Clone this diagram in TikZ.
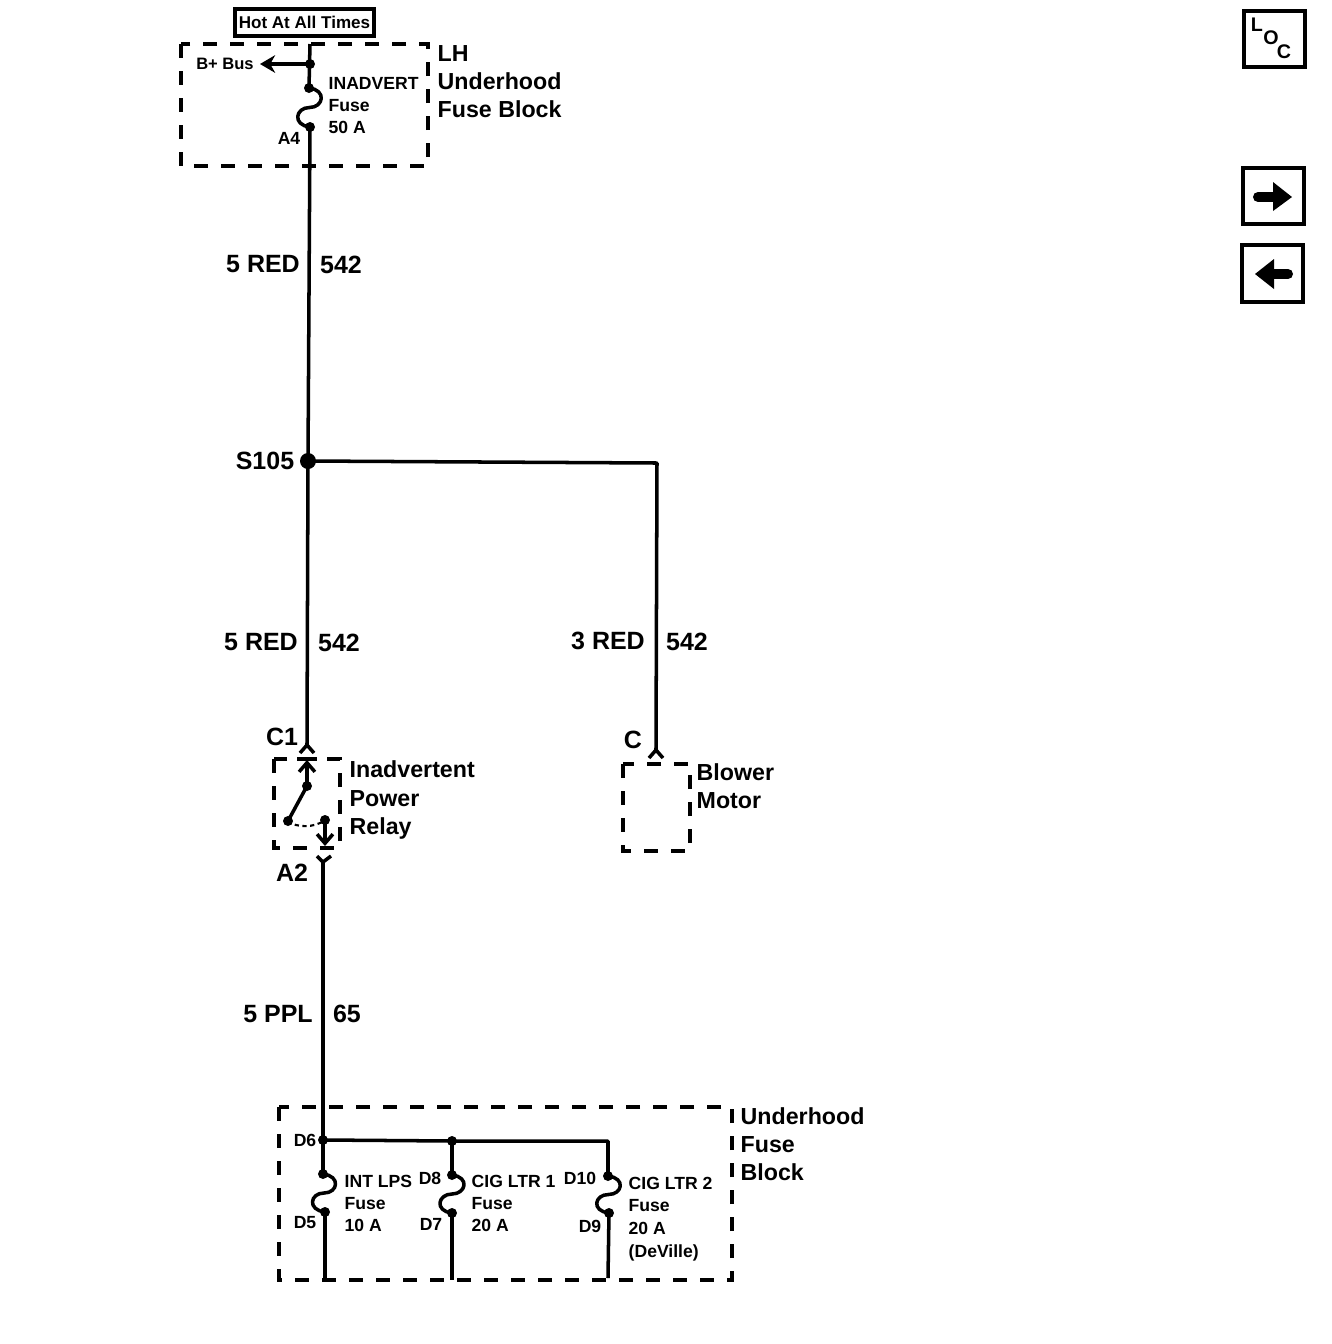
\documentclass[tikz,border=0pt]{standalone}
\usepackage{fontspec}
\setmainfont{Liberation Sans}
\usetikzlibrary{arrows.meta,calc}
\newlength{\punit}
\setlength{\punit}{0.01cm}
\tikzset{
wire/.style={line width=1pt,line join=round},
block/.style={line width=1.15pt,dash pattern=on 14\punit off 13\punit},
biglabel/.style={inner sep=0pt,align=left,font=\fontsize{7.1}{7.97}\selectfont\bfseries},
sidelabel/.style={biglabel,anchor=west,font=\fontsize{6.6}{7.97}\selectfont\bfseries},
smalllabel/.style={inner sep=0pt,align=left,font=\fontsize{5}{6.26}\selectfont\bfseries},
iconbox/.style={line width=1.2pt},
}
\newcommand{\fuselink}[2]{\draw[wire] (#1) .. controls +(18,2) and +(14,0) .. ($(#1)!0.5!(#2)$) .. controls +(-14,0) and +(-18,-2) .. (#2);}
\begin{document}
\begin{tikzpicture}[x=0.01cm,y=-0.01cm]
\useasboundingbox (0,0) rectangle (1332,1344);
% top fuse block
\coordinate (lhtop) at (310,44);
\coordinate (busj) at (310,64);
\coordinate (busend) at (260,64);
\coordinate (fa) at (309,88);
\coordinate (fb) at (310,127);
\coordinate (s105) at (308,461);
\coordinate (corner) at (657,463);
\coordinate (cc) at (656,750);
\coordinate (cca) at (649,758);
\coordinate (ccb) at (663,758);
\coordinate (c1) at (307,745);
\coordinate (c1a) at (300,753);
\coordinate (c1b) at (314,753);
% relay
\coordinate (ra) at (297,759);
\coordinate (rb) at (317,759);
\coordinate (rc) at (307,760);
\coordinate (rd) at (307,786);
\coordinate (re) at (288,821);
\coordinate (rf) at (325,820);
\coordinate (rg) at (325,846);
\coordinate (a2) at (323,862);
\coordinate (a2a) at (317,856);
\coordinate (a2b) at (331,856);
% lower fuse block
\coordinate (d6) at (323,1140);
\coordinate (d8j) at (452,1141);
\coordinate (bus) at (608,1141);
\coordinate (d5a) at (323,1174);
\coordinate (d5b) at (325,1212);
\coordinate (d5c) at (325,1278);
\coordinate (d7a) at (452,1175);
\coordinate (d7b) at (452,1213);
\coordinate (d7c) at (452,1280);
\coordinate (d9a) at (608,1176);
\coordinate (d9b) at (609,1213);
\coordinate (d9c) at (608,1278);
% dashed blocks
\draw[block] (181,44) rectangle (428,166);
\draw[block] (274,759) rectangle (340,848);
\draw[block] (623,764) rectangle (690,851);
\draw[block] (279,1107) rectangle (732,1280);
% wires
\draw[wire] (lhtop) -- (fa);
\draw[wire,-{Stealth[length=4.3pt,width=5pt]}] (busj) -- (busend);
\fuselink{fa}{fb}
\draw[wire] (fb) -- (s105) -- (c1);
\draw[wire] (s105) -- (corner) -- (cc);
\draw[wire] (cca) -- (cc) -- (ccb);
\draw[wire] (c1a) -- (c1) -- (c1b);
\draw[wire] (ra) -- (rb);
\draw[wire,-{Straight Barb[length=2.6pt,width=4.5pt]}] (rd) -- (rc);
\draw[wire] (rd) -- (re);
\draw[line width=0.6pt,dash pattern=on 1.2pt off 1pt] (re) .. controls +(8,7) and +(-10,8) .. (rf);
\draw[wire,-{Straight Barb[length=2.6pt,width=4.5pt]}] (rf) -- (rg);
\draw[wire] (a2a) -- (a2) -- (a2b);
\draw[wire] (a2) -- (d6) -- (d5a);
\draw[wire] (d6) -- (d8j) -- (bus) -- (d9a);
\draw[wire] (d8j) -- (d7a);
\fuselink{d5a}{d5b}
\fuselink{d7a}{d7b}
\fuselink{d9a}{d9b}
\draw[wire] (d5b) -- (d5c);
\draw[wire] (d7b) -- (d7c);
\draw[wire] (d9b) -- (d9c);
\foreach \s in {busj,fa,fb,rd,re,rf,d6,d8j,d5a,d5b,d7a,d7b,d9a,d9b}
{ \fill (\s) circle (5\punit);};
\fill (s105) circle (8\punit);
% labels
\node[draw,line width=1.1pt,minimum width=139\punit,minimum height=27\punit,inner sep=0pt,font=\fontsize{4.85}{6}\selectfont\bfseries] (hot) at (304.5,22.5) {Hot At All Times};
\node[smalllabel,font=\fontsize{4.7}{6}\selectfont\bfseries] (bplus) at (225,64) {B+ Bus};
\node[smalllabel,anchor=west] (inadv) at (328,106) {INADVERT\\Fuse\\50 A};
\node[smalllabel] (a4) at (289,138) {A4};
\node[sidelabel] (lh) at (437,82) {LH\\Underhood\\Fuse Block};
\node[biglabel] (reda) at (263,264) {5 RED};
\node[biglabel] (wa) at (341,265) {542};
\node[biglabel] (s105l) at (265,461) {S105};
\node[biglabel] (redb) at (261,642) {5 RED};
\node[biglabel] (wb) at (339,643) {542};
\node[biglabel] (redc) at (608,641) {3 RED};
\node[biglabel] (wc) at (687,642) {542};
\node[biglabel] (c1l) at (282,737) {C1};
\node[biglabel] (cl) at (633,740) {C};
\node[sidelabel] (relay) at (349,800) {Inadvertent\\Power\\Relay};
\node[sidelabel] (blower) at (696,786.5) {Blower\\Motor};
\node[biglabel] (a2l) at (292,873) {A2};
\node[biglabel] (ppl) at (278,1014) {5 PPL};
\node[biglabel] (wd) at (347,1014) {65};
\node[sidelabel] (ufb) at (740,1144) {Underhood\\Fuse\\Block};
\node[smalllabel] (d6l) at (305,1140) {D6};
\node[smalllabel] (d5l) at (305,1223) {D5};
\node[smalllabel] (d8l) at (430,1178) {D8};
\node[smalllabel] (d7l) at (431,1224) {D7};
\node[smalllabel] (d10l) at (580,1178) {D10};
\node[smalllabel] (d9l) at (590,1226) {D9};
\node[smalllabel,anchor=west] (intl) at (344,1203) {INT LPS\\Fuse\\10 A};
\node[smalllabel,anchor=west] (cigb) at (471,1203) {CIG LTR 1\\Fuse\\20 A};
\node[smalllabel,anchor=west,font=\fontsize{5}{6.45}\selectfont\bfseries] (cigc) at (628,1219) {CIG LTR 2\\Fuse\\20 A\\(DeVille)};
% side icons
\draw[iconbox] (1244,11) rectangle (1305,67);
\node[biglabel,font=\fontsize{5.6}{6}\selectfont\bfseries] (locl) at (1257,25) {L};
\node[biglabel,font=\fontsize{5.6}{6}\selectfont\bfseries] (loco) at (1271,38) {O};
\node[biglabel,font=\fontsize{5.6}{6}\selectfont\bfseries] (locc) at (1284,52) {C};
\draw[iconbox] (1243,168) rectangle (1304,224);
\draw[line width=10\punit,line cap=round] (1258,197) -- (1275,197);
\fill (1273,182) -- (1292,197) -- (1273,211) -- cycle;
\draw[iconbox] (1242,245) rectangle (1303,302);
\draw[line width=10\punit,line cap=round] (1288,274) -- (1272,274);
\fill (1274,259) -- (1255,274) -- (1274,289) -- cycle;
\end{tikzpicture}
\end{document}
